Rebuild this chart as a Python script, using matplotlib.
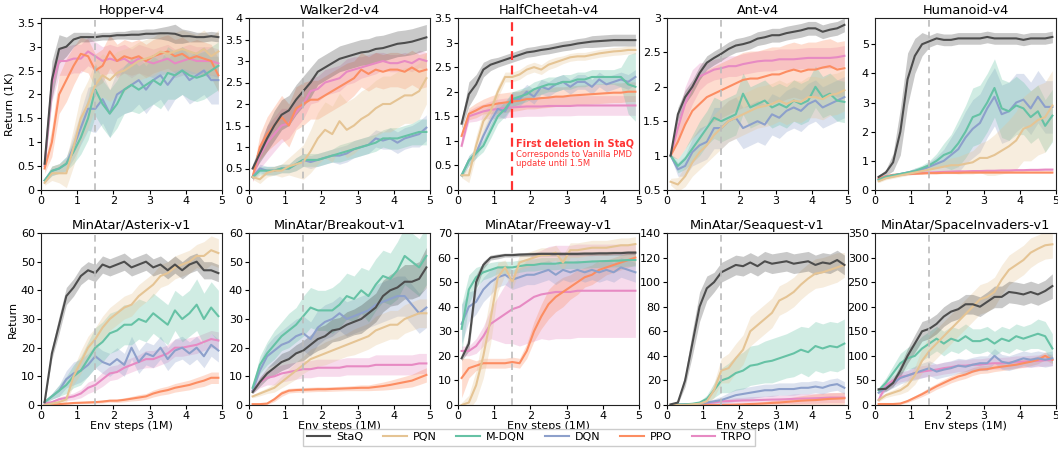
import matplotlib
matplotlib.use("Agg")
import matplotlib.pyplot as plt
import numpy as np

plt.rcParams['font.family'] = ['DejaVu Sans']

X = [0.1, 0.3, 0.5, 0.7, 0.9, 1.1, 1.3, 1.5, 1.7, 1.9, 2.1, 2.3, 2.5,
     2.7, 2.9, 3.1, 3.3, 3.5, 3.7, 3.9, 4.1, 4.3, 4.5, 4.7, 4.9]

methods = ["StaQ", "PQN", "M-DQN", "DQN", "PPO", "TRPO"]
colors = ["#4d4d4d", "#e5c494", "#66c2a5", "#8da0cb", "#fc8d62", "#e78ac3"]

titles = ["Hopper-v4", "Walker2d-v4", "HalfCheetah-v4", "Ant-v4", "Humanoid-v4",
          "MinAtar/Asterix-v1", "MinAtar/Breakout-v1", "MinAtar/Freeway-v1",
          "MinAtar/Seaquest-v1", "MinAtar/SpaceInvaders-v1"]

# ---------------- Hopper ----------------
hop_staq = [0.55, 2.3, 2.95, 3.0, 3.15, 3.2, 3.2, 3.2, 3.22, 3.22, 3.24, 3.24, 3.25, 3.25, 3.27, 3.27, 3.28, 3.28, 3.27, 3.22, 3.22, 3.2, 3.2, 3.22, 3.2]
hop_pqn = [0.15, 0.35, 0.35, 0.35, 0.9, 1.5, 1.8, 2.2, 2.4, 2.3, 2.45, 2.5, 2.6, 2.7, 2.75, 2.8, 2.9, 2.85, 2.9, 2.95, 2.9, 2.85, 2.95, 2.8, 2.9]
hop_mdqn = [0.2, 0.4, 0.45, 0.55, 0.8, 1.1, 1.5, 2.1, 1.8, 1.6, 1.8, 2.1, 2.2, 2.1, 2.2, 2.3, 2.2, 2.45, 2.4, 2.5, 2.4, 2.35, 2.4, 2.5, 2.6]
hop_dqn = [0.2, 0.4, 0.45, 0.55, 0.9, 1.3, 1.7, 1.7, 1.9, 1.6, 2.0, 2.1, 2.2, 2.3, 2.1, 2.3, 2.4, 2.2, 2.4, 2.5, 2.3, 2.4, 2.5, 2.3, 2.3]
hop_ppo = [0.45, 1.0, 2.0, 2.3, 2.6, 2.85, 2.8, 2.5, 2.6, 2.9, 2.7, 2.8, 2.75, 2.8, 2.7, 2.8, 2.85, 2.9, 2.8, 2.85, 2.75, 2.8, 2.75, 2.7, 2.4]
hop_trpo = [0.5, 2.2, 2.7, 2.7, 2.75, 2.75, 2.9, 2.8, 2.7, 2.75, 2.7, 2.75, 2.65, 2.75, 2.7, 2.65, 2.7, 2.75, 2.65, 2.7, 2.75, 2.7, 2.7, 2.7, 2.65]
hop_band = [
    [0.1, 0.4, 0.3, 0.2, 0.15, 0.1, 0.1, 0.08, 0.08, 0.08, 0.08, 0.08, 0.1, 0.1, 0.1, 0.1, 0.12, 0.15, 0.2, 0.15, 0.12, 0.1, 0.1, 0.1, 0.1],
    [0.05, 0.15, 0.2, 0.3, 0.4, 0.5, 0.5, 0.5, 0.45, 0.45, 0.45, 0.45, 0.4, 0.4, 0.4, 0.4, 0.4, 0.4, 0.4, 0.4, 0.4, 0.4, 0.4, 0.4, 0.45],
    [0.05, 0.1, 0.1, 0.15, 0.25, 0.35, 0.45, 0.55, 0.5, 0.5, 0.5, 0.5, 0.55, 0.5, 0.5, 0.5, 0.5, 0.55, 0.5, 0.5, 0.5, 0.5, 0.5, 0.5, 0.5],
    [0.05, 0.1, 0.1, 0.15, 0.25, 0.35, 0.45, 0.5, 0.5, 0.5, 0.5, 0.5, 0.55, 0.5, 0.5, 0.5, 0.5, 0.55, 0.5, 0.5, 0.5, 0.5, 0.5, 0.5, 0.5],
    [0.1, 0.3, 0.4, 0.45, 0.4, 0.35, 0.35, 0.35, 0.35, 0.35, 0.35, 0.35, 0.35, 0.35, 0.35, 0.35, 0.35, 0.35, 0.35, 0.35, 0.35, 0.35, 0.35, 0.35, 0.35],
    [0.1, 0.35, 0.3, 0.3, 0.3, 0.3, 0.3, 0.3, 0.3, 0.3, 0.3, 0.3, 0.3, 0.3, 0.3, 0.3, 0.3, 0.3, 0.3, 0.3, 0.3, 0.3, 0.3, 0.3, 0.3]]

# ---------------- Walker2d ----------------
wal_staq = [0.5, 0.85, 1.2, 1.5, 1.75, 1.85, 2.1, 2.3, 2.5, 2.75, 2.85, 2.95, 3.05, 3.1, 3.15, 3.2, 3.22, 3.28, 3.3, 3.35, 3.4, 3.42, 3.45, 3.5, 3.55]
wal_pqn = [0.3, 0.25, 0.4, 0.45, 0.45, 0.55, 0.6, 0.65, 0.9, 1.2, 1.4, 1.3, 1.6, 1.4, 1.5, 1.65, 1.75, 1.9, 2.0, 2.0, 2.1, 2.2, 2.2, 2.3, 2.6]
wal_mdqn = [0.3, 0.45, 0.45, 0.45, 0.5, 0.5, 0.6, 0.7, 0.7, 0.7, 0.75, 0.8, 0.85, 0.9, 0.95, 1.0, 1.05, 1.1, 1.2, 1.2, 1.2, 1.25, 1.3, 1.35, 1.35]
wal_dqn = [0.3, 0.5, 0.45, 0.45, 0.5, 0.5, 0.6, 0.7, 0.65, 0.7, 0.75, 0.8, 0.8, 0.85, 0.95, 1.0, 1.05, 1.2, 1.15, 1.2, 1.1, 1.2, 1.25, 1.3, 1.45]
wal_ppo = [0.3, 1.0, 1.3, 1.5, 1.7, 1.5, 1.9, 2.0, 2.1, 2.1, 2.2, 2.3, 2.4, 2.5, 2.6, 2.8, 2.7, 2.8, 2.75, 2.8, 2.8, 2.75, 2.85, 2.75, 2.8]
wal_trpo = [0.3, 0.8, 1.1, 1.3, 1.5, 1.55, 1.8, 2.0, 2.3, 2.35, 2.5, 2.55, 2.6, 2.75, 2.8, 2.85, 2.9, 2.95, 3.0, 2.95, 2.95, 3.0, 2.95, 3.05, 3.0]
wal_band = [
    [0.1, 0.2, 0.3, 0.35, 0.35, 0.35, 0.35, 0.35, 0.35, 0.3, 0.3, 0.3, 0.3, 0.3, 0.3, 0.3, 0.3, 0.3, 0.3, 0.3, 0.3, 0.3, 0.3, 0.3, 0.3],
    [0.05, 0.1, 0.1, 0.1, 0.15, 0.2, 0.3, 0.4, 0.5, 0.6, 0.65, 0.65, 0.65, 0.65, 0.65, 0.65, 0.65, 0.65, 0.65, 0.65, 0.65, 0.65, 0.65, 0.65, 0.6],
    [0.05, 0.1, 0.1, 0.1, 0.1, 0.1, 0.15, 0.15, 0.15, 0.15, 0.15, 0.15, 0.2, 0.2, 0.2, 0.2, 0.2, 0.2, 0.2, 0.25, 0.25, 0.25, 0.25, 0.3, 0.3],
    [0.05, 0.1, 0.1, 0.1, 0.1, 0.1, 0.15, 0.15, 0.15, 0.15, 0.15, 0.15, 0.2, 0.2, 0.2, 0.2, 0.2, 0.2, 0.2, 0.25, 0.25, 0.25, 0.25, 0.3, 0.3],
    [0.1, 0.3, 0.4, 0.45, 0.5, 0.5, 0.5, 0.5, 0.45, 0.45, 0.45, 0.45, 0.45, 0.45, 0.4, 0.4, 0.4, 0.4, 0.4, 0.4, 0.4, 0.4, 0.4, 0.4, 0.4],
    [0.1, 0.3, 0.4, 0.4, 0.4, 0.35, 0.35, 0.35, 0.3, 0.3, 0.3, 0.3, 0.3, 0.3, 0.3, 0.25, 0.25, 0.25, 0.2, 0.2, 0.2, 0.2, 0.2, 0.2, 0.2]]

# ---------------- HalfCheetah ----------------
hc_staq = [1.35, 1.95, 2.15, 2.45, 2.55, 2.6, 2.65, 2.7, 2.75, 2.8, 2.82, 2.85, 2.87, 2.9, 2.93, 2.95, 2.98, 3.0, 3.02, 3.03, 3.04, 3.05, 3.05, 3.05, 3.05]
hc_pqn = [0.3, 0.3, 0.9, 1.4, 1.6, 2.0, 2.3, 2.3, 2.35, 2.45, 2.5, 2.45, 2.55, 2.6, 2.65, 2.7, 2.72, 2.72, 2.75, 2.78, 2.8, 2.82, 2.83, 2.85, 2.85]
hc_mdqn = [0.3, 0.6, 0.75, 0.9, 1.2, 1.5, 1.65, 1.85, 1.9, 1.95, 2.05, 2.1, 2.15, 2.15, 2.2, 2.2, 2.25, 2.25, 2.3, 2.3, 2.3, 2.3, 2.3, 2.15, 2.1]
hc_dqn = [0.3, 0.6, 0.75, 1.1, 1.4, 1.65, 1.6, 1.85, 1.85, 2.0, 1.9, 2.1, 2.05, 2.15, 2.2, 2.1, 2.2, 2.2, 2.1, 2.25, 2.15, 2.2, 2.25, 2.2, 2.3]
hc_ppo = [1.1, 1.55, 1.62, 1.7, 1.73, 1.76, 1.78, 1.8, 1.82, 1.85, 1.85, 1.87, 1.88, 1.9, 1.9, 1.92, 1.93, 1.94, 1.95, 1.96, 1.97, 1.98, 1.98, 2.0, 2.0]
hc_trpo = [0.9, 1.5, 1.55, 1.6, 1.63, 1.65, 1.67, 1.68, 1.69, 1.7, 1.7, 1.7, 1.71, 1.71, 1.71, 1.71, 1.72, 1.72, 1.72, 1.72, 1.72, 1.72, 1.72, 1.72, 1.72]
hc_band = [
    [0.1, 0.25, 0.2, 0.15, 0.12, 0.1, 0.1, 0.1, 0.1, 0.1, 0.1, 0.1, 0.1, 0.1, 0.1, 0.1, 0.1, 0.1, 0.12, 0.12, 0.12, 0.12, 0.12, 0.12, 0.12],
    [0.05, 0.15, 0.2, 0.2, 0.15, 0.12, 0.1, 0.1, 0.1, 0.1, 0.1, 0.1, 0.1, 0.1, 0.08, 0.08, 0.08, 0.08, 0.08, 0.08, 0.08, 0.08, 0.08, 0.08, 0.08],
    [0.05, 0.1, 0.1, 0.12, 0.15, 0.15, 0.15, 0.15, 0.15, 0.15, 0.15, 0.15, 0.15, 0.15, 0.15, 0.15, 0.15, 0.15, 0.15, 0.15, 0.15, 0.15, 0.2, 0.6, 0.7],
    [0.05, 0.1, 0.1, 0.12, 0.15, 0.15, 0.15, 0.15, 0.15, 0.15, 0.15, 0.15, 0.15, 0.15, 0.15, 0.15, 0.15, 0.15, 0.15, 0.15, 0.15, 0.15, 0.15, 0.15, 0.15],
    [0.1, 0.12, 0.15, 0.15, 0.18, 0.2, 0.2, 0.2, 0.2, 0.2, 0.2, 0.2, 0.2, 0.2, 0.2, 0.2, 0.2, 0.2, 0.2, 0.2, 0.2, 0.2, 0.2, 0.2, 0.2],
    [0.05, 0.12, 0.15, 0.15, 0.18, 0.2, 0.2, 0.2, 0.2, 0.2, 0.2, 0.2, 0.2, 0.2, 0.2, 0.2, 0.2, 0.2, 0.2, 0.2, 0.2, 0.2, 0.2, 0.2, 0.2]]

# ---------------- Ant ----------------
ant_staq = [1.0, 1.6, 1.85, 2.0, 2.2, 2.35, 2.42, 2.48, 2.55, 2.6, 2.62, 2.65, 2.7, 2.72, 2.75, 2.75, 2.78, 2.8, 2.82, 2.85, 2.85, 2.8, 2.83, 2.85, 2.9]
ant_pqn = [0.62, 0.58, 0.7, 0.9, 1.05, 1.15, 1.3, 1.4, 1.5, 1.55, 1.6, 1.65, 1.7, 1.72, 1.75, 1.8, 1.75, 1.8, 1.78, 1.85, 1.85, 1.82, 1.88, 1.9, 1.95]
ant_mdqn = [1.0, 0.85, 0.95, 1.1, 1.25, 1.4, 1.55, 1.5, 1.55, 1.6, 1.9, 1.7, 1.75, 1.8, 1.7, 1.75, 1.7, 1.8, 1.75, 1.8, 2.0, 1.85, 1.9, 1.8, 1.78]
ant_dqn = [1.0, 0.8, 0.85, 1.05, 1.15, 1.2, 1.4, 1.4, 1.5, 1.55, 1.4, 1.45, 1.5, 1.45, 1.6, 1.55, 1.65, 1.7, 1.65, 1.75, 1.8, 1.7, 1.75, 1.8, 1.85]
ant_ppo = [1.0, 1.2, 1.45, 1.65, 1.75, 1.85, 1.9, 1.95, 2.0, 2.05, 2.1, 2.12, 2.12, 2.15, 2.18, 2.18, 2.22, 2.25, 2.22, 2.25, 2.25, 2.28, 2.3, 2.25, 2.27]
ant_trpo = [1.0, 1.4, 1.75, 2.0, 2.15, 2.2, 2.25, 2.27, 2.3, 2.3, 2.33, 2.35, 2.37, 2.38, 2.38, 2.4, 2.4, 2.4, 2.41, 2.42, 2.42, 2.42, 2.42, 2.43, 2.45]
ant_band = [
    [0.02, 0.1, 0.1, 0.1, 0.1, 0.1, 0.1, 0.1, 0.1, 0.1, 0.1, 0.1, 0.1, 0.1, 0.1, 0.1, 0.1, 0.1, 0.1, 0.1, 0.1, 0.1, 0.1, 0.1, 0.1],
    [0.05, 0.1, 0.15, 0.2, 0.25, 0.25, 0.3, 0.3, 0.3, 0.3, 0.3, 0.3, 0.3, 0.3, 0.3, 0.3, 0.3, 0.3, 0.3, 0.3, 0.3, 0.3, 0.3, 0.3, 0.3],
    [0.02, 0.1, 0.15, 0.2, 0.25, 0.25, 0.3, 0.3, 0.3, 0.3, 0.3, 0.3, 0.3, 0.3, 0.3, 0.3, 0.3, 0.3, 0.3, 0.3, 0.3, 0.3, 0.3, 0.3, 0.3],
    [0.02, 0.1, 0.15, 0.2, 0.25, 0.25, 0.3, 0.3, 0.3, 0.3, 0.3, 0.3, 0.3, 0.3, 0.3, 0.3, 0.3, 0.3, 0.3, 0.3, 0.3, 0.3, 0.3, 0.3, 0.3],
    [0.02, 0.25, 0.35, 0.4, 0.4, 0.4, 0.4, 0.4, 0.4, 0.4, 0.4, 0.4, 0.4, 0.4, 0.4, 0.4, 0.4, 0.4, 0.4, 0.4, 0.4, 0.4, 0.4, 0.4, 0.4],
    [0.02, 0.2, 0.25, 0.25, 0.2, 0.15, 0.15, 0.15, 0.15, 0.15, 0.15, 0.15, 0.15, 0.15, 0.15, 0.15, 0.15, 0.15, 0.15, 0.15, 0.15, 0.15, 0.15, 0.15, 0.15]]

# ---------------- Humanoid ----------------
hum_staq = [0.45, 0.6, 0.95, 2.0, 3.8, 4.6, 5.0, 5.1, 5.2, 5.15, 5.15, 5.2, 5.2, 5.2, 5.2, 5.25, 5.2, 5.2, 5.2, 5.2, 5.15, 5.2, 5.2, 5.2, 5.25]
hum_pqn = [0.3, 0.4, 0.45, 0.5, 0.55, 0.6, 0.65, 0.7, 0.75, 0.8, 0.85, 0.85, 0.9, 0.95, 1.1, 1.1, 1.2, 1.35, 1.5, 1.7, 2.1, 2.2, 2.4, 2.5, 2.9]
hum_mdqn = [0.35, 0.45, 0.5, 0.55, 0.6, 0.65, 0.75, 0.85, 1.0, 1.2, 1.3, 1.6, 2.0, 2.5, 2.6, 3.0, 3.5, 2.8, 2.7, 2.9, 2.8, 2.5, 2.7, 2.2, 2.55]
hum_dqn = [0.35, 0.45, 0.5, 0.55, 0.6, 0.65, 0.7, 0.8, 0.9, 1.0, 1.2, 1.4, 1.8, 2.1, 2.3, 2.8, 3.2, 2.6, 2.7, 3.0, 3.1, 2.8, 3.2, 2.85, 2.85]
hum_ppo = [0.4, 0.47, 0.52, 0.54, 0.55, 0.56, 0.57, 0.58, 0.58, 0.59, 0.59, 0.59, 0.6, 0.6, 0.6, 0.6, 0.6, 0.6, 0.6, 0.6, 0.6, 0.6, 0.6, 0.6, 0.6]
hum_trpo = [0.4, 0.47, 0.5, 0.53, 0.55, 0.57, 0.59, 0.6, 0.61, 0.62, 0.63, 0.64, 0.64, 0.65, 0.65, 0.66, 0.66, 0.67, 0.67, 0.68, 0.68, 0.69, 0.69, 0.7, 0.7]
hum_band = [
    [0.05, 0.1, 0.3, 0.8, 0.9, 0.6, 0.4, 0.2, 0.2, 0.2, 0.2, 0.2, 0.2, 0.2, 0.2, 0.2, 0.2, 0.2, 0.2, 0.2, 0.2, 0.2, 0.2, 0.2, 0.2],
    [0.05, 0.05, 0.05, 0.05, 0.05, 0.05, 0.1, 0.1, 0.15, 0.2, 0.25, 0.3, 0.35, 0.4, 0.5, 0.6, 0.7, 0.8, 0.9, 1.0, 1.1, 1.2, 1.2, 1.2, 1.2],
    [0.05, 0.05, 0.05, 0.05, 0.05, 0.1, 0.1, 0.15, 0.25, 0.4, 0.6, 0.8, 0.9, 1.0, 1.0, 1.0, 1.0, 1.0, 1.0, 1.0, 0.9, 0.9, 0.9, 0.9, 0.9],
    [0.05, 0.05, 0.05, 0.05, 0.05, 0.1, 0.1, 0.15, 0.25, 0.4, 0.6, 0.8, 0.9, 1.0, 1.0, 1.0, 1.0, 1.0, 1.0, 1.0, 0.9, 0.9, 0.9, 0.9, 0.9],
    [0.05, 0.04, 0.03, 0.03, 0.03, 0.03, 0.03, 0.03, 0.03, 0.03, 0.03, 0.03, 0.03, 0.03, 0.03, 0.03, 0.03, 0.03, 0.03, 0.03, 0.03, 0.03, 0.03, 0.03, 0.03],
    [0.05, 0.04, 0.03, 0.03, 0.03, 0.03, 0.03, 0.03, 0.03, 0.03, 0.03, 0.03, 0.03, 0.03, 0.03, 0.03, 0.03, 0.03, 0.03, 0.03, 0.03, 0.03, 0.03, 0.03, 0.03]]

# ---------------- Asterix ----------------
ast_staq = [1, 18, 28, 38, 41, 45, 47, 46, 49, 48, 49, 50, 48, 49, 50, 48, 49, 47, 49, 47, 49, 50, 47, 47, 46]
ast_pqn = [0, 0.5, 1, 2, 10, 15, 20, 23, 27, 30, 32, 34, 35, 38, 40, 42, 45, 46, 48, 49, 50, 52, 52, 54, 53]
ast_mdqn = [1, 3, 5, 7, 10, 12, 16, 20, 22, 25, 26, 28, 28, 30, 29, 32, 30, 28, 33, 30, 32, 35, 30, 34, 31]
ast_dqn = [1, 3, 5, 9, 11, 12, 14, 17, 15, 14, 16, 14, 20, 15, 18, 17, 20, 16, 19, 20, 18, 20, 17, 21, 19]
ast_ppo = [0, 0.1, 0.3, 0.5, 0.7, 0.8, 0.9, 1, 1.2, 1.5, 1.5, 1.8, 2.2, 2.6, 3, 4, 4.7, 5.2, 6, 6.5, 7, 7.8, 8.5, 9.5, 9.5]
ast_trpo = [0.5, 1, 2, 2.5, 3, 4, 6, 7, 9, 11, 11.5, 13, 14, 15, 16, 16, 17, 18, 20, 20, 20.5, 21, 22, 23, 22.5]
ast_band = [
    [0.5, 2, 3, 3, 3, 3, 3, 3, 3, 3, 3, 3, 3, 3, 3, 3, 3, 3, 3, 3, 3, 3, 3, 3, 3],
    [0.2, 0.3, 0.5, 1, 3, 4, 4, 4, 4, 4, 4, 4, 4, 4, 4, 4, 4, 4, 4, 4, 4, 4, 5, 5, 5],
    [0.5, 1, 2, 3, 4, 5, 6, 7, 7, 7, 7, 7, 7, 7, 7, 7, 7, 7, 7, 8, 8, 9, 9, 9, 9],
    [0.5, 1, 2, 3, 4, 4, 4, 4, 4, 4, 4, 4, 4, 4, 4, 4, 4, 4, 4, 4, 4, 4, 4, 4, 4],
    [0.1, 0.1, 0.2, 0.3, 0.3, 0.3, 0.4, 0.4, 0.5, 0.5, 0.6, 0.7, 0.8, 1, 1, 1.2, 1.3, 1.4, 1.5, 1.6, 1.7, 1.8, 2, 2, 2],
    [0.2, 0.5, 0.8, 1, 1.2, 1.5, 2, 2, 2.5, 2.5, 2.5, 2.5, 2.5, 2.5, 3, 3, 3, 3, 3, 3, 3, 3, 3, 3, 3]]

# ---------------- Breakout ----------------
brk_staq = [4.5, 8, 11, 13, 15, 16, 18, 19, 21, 23, 24, 26, 26.5, 28, 29, 30, 32, 34, 38, 40, 41, 43, 43, 44, 48]
brk_pqn = [3, 4, 5, 6, 8, 10, 12, 14, 16, 17, 18, 19, 20, 21, 22, 23, 24, 26, 27, 28, 28, 30, 31, 32, 32]
brk_mdqn = [6, 14, 18, 21, 24, 26, 28, 31, 34, 33, 33, 33, 35, 38, 37, 40, 38, 42, 45, 44, 47, 52, 50, 48, 52]
brk_dqn = [5, 12, 17, 19, 21, 22, 24, 25, 23, 27, 29, 30, 32, 30, 31, 32, 33, 35, 36, 37, 38, 38, 35, 32, 34]
brk_ppo = [0.3, 0.3, 0.5, 2, 4, 5, 5.2, 5.3, 5.4, 5.5, 5.5, 5.6, 5.7, 5.8, 5.9, 6, 6, 6.3, 6.6, 7, 7.5, 8, 8.5, 9.5, 10.5]
brk_trpo = [5, 8, 9.5, 10, 11, 11.5, 12, 12.5, 12.5, 13, 13, 13, 13, 13.5, 13.5, 13.5, 13.5, 14, 14, 14, 14, 14, 14, 14.5, 14.5]
brk_band = [
    [0.5, 1.5, 2, 2.5, 3, 3, 3, 3.5, 3.5, 4, 4, 4, 4, 4.5, 4.5, 5, 5, 5, 5.5, 5.5, 6, 6, 6, 6, 7],
    [0.5, 0.8, 1, 1.5, 2, 2.5, 3, 3, 3.5, 3.5, 4, 4, 4, 4, 4.5, 4.5, 4.5, 5, 5, 5, 5, 5, 5, 5, 5],
    [1, 3, 4, 5, 5, 6, 6, 7, 7, 7, 7, 8, 8, 8, 8, 8, 9, 9, 9, 9, 10, 10, 10, 10, 10],
    [1, 3, 4, 5, 5, 6, 6, 6, 6, 6, 6, 6, 6, 6, 6, 6, 6, 7, 7, 7, 7, 7, 7, 7, 7],
    [0.2, 0.2, 0.3, 0.8, 1, 0.8, 0.8, 0.8, 0.8, 0.8, 0.8, 0.8, 0.8, 0.8, 0.9, 1, 1, 1.2, 1.4, 1.6, 1.8, 2, 2.2, 2.4, 2.5],
    [1, 2, 2.5, 3, 3, 3, 3, 3, 3, 3, 3, 3, 3, 3, 3, 3, 3, 3.5, 3.5, 3.5, 3.5, 3.5, 3.5, 3.5, 3.5]]

# ---------------- Freeway ----------------
frw_staq = [19, 25, 50, 57, 60, 60.5, 61, 61, 61.2, 61.3, 61.4, 61.5, 61.5, 61.5, 61.5, 61.5, 61.5, 61.6, 61.6, 61.7, 61.7, 61.8, 61.8, 62, 62]
frw_pqn = [0, 1, 8, 20, 35, 52, 56, 50, 58, 59, 60, 61, 61, 62, 58, 63, 63, 63.5, 64, 64, 64, 64.5, 65, 65, 65.5]
frw_mdqn = [31, 47, 52, 54, 55, 56, 56, 56, 56.5, 57, 57, 57.5, 57.5, 57.5, 58, 58, 58, 58.2, 58.4, 58.5, 58.6, 58.7, 58.8, 59, 59]
frw_dqn = [33, 40, 42, 47, 50, 52, 53, 51, 52, 53, 53, 54, 55, 53, 55, 54, 55, 54, 55, 54, 55, 54, 56, 55, 54]
frw_ppo = [11, 15, 16, 17, 17, 17, 17, 17.5, 17, 22, 30, 36, 41, 44, 46, 48, 50, 52, 53, 55, 56, 57, 58, 59, 60]
frw_trpo = [22, 22, 24, 28, 33, 35, 37, 39, 40, 42, 44, 45, 45.5, 46, 46, 46, 46.5, 46.5, 46.5, 46.5, 46.5, 46.5, 46.5, 46.5, 46.5]
frw_band = [
    [1, 3, 3, 1.5, 1, 1, 0.8, 0.8, 0.8, 0.8, 0.8, 0.8, 0.8, 0.8, 0.8, 0.8, 0.8, 0.8, 0.8, 0.8, 0.8, 0.8, 0.8, 0.8, 0.8],
    [1, 3, 6, 9, 10, 6, 3, 3, 3, 3, 3, 3, 3, 3, 3, 3, 3, 3, 3, 3, 3, 3, 3, 3, 3],
    [10, 6, 4, 3, 3, 2.5, 2.5, 2.5, 2.5, 2.5, 2.5, 2.5, 2.5, 2.5, 2.5, 2.5, 2.5, 2.5, 2.5, 2.5, 2.5, 2.5, 2.5, 2.5, 2.5],
    [8, 6, 5, 5, 5, 4, 4, 4, 4, 4, 4, 4, 4, 4, 4, 4, 4, 4, 4, 4, 4, 4, 4, 4, 4],
    [8, 4, 2, 2, 2, 2, 2, 2, 2, 3, 4, 5, 6, 6, 6, 5, 5, 4, 4, 4, 3, 3, 3, 3, 3],
    [2, 2, 3, 4, 6, 9, 12, 14, 16, 17, 18, 18, 19, 19, 19, 19, 19, 19, 19, 19, 19, 19, 19, 19, 19]]

# ---------------- Seaquest ----------------
sea_staq = [0.5, 2, 20, 50, 80, 95, 100, 108, 111, 114, 113, 116, 113, 117, 115, 116, 117, 115, 116, 117, 114, 116, 115, 118, 114]
sea_pqn = [0, 0, 0, 0.5, 1, 3, 12, 28, 30, 38, 45, 60, 65, 70, 75, 85, 88, 92, 98, 103, 107, 108, 110, 112, 114]
sea_mdqn = [0, 0.5, 0.5, 1, 2, 5, 12, 20, 22, 26, 28, 32, 33, 35, 36, 38, 40, 42, 45, 43, 48, 46, 48, 47, 50]
sea_dqn = [0, 0.2, 0.5, 0.7, 1, 2, 3, 4, 6, 8, 9, 10, 11, 12, 12, 13, 13, 13, 14, 14, 15, 14, 16, 17, 14]
sea_ppo = [0, 0, 0, 0, 0, 0, 0, 0, 0.2, 0.3, 0.5, 0.8, 1, 1.3, 1.7, 2, 2.5, 3, 3.5, 3.8, 4, 4.5, 5, 5.2, 5.5]
sea_trpo = [0, 0.2, 0.4, 0.6, 1, 1.5, 2, 3, 3.2, 3.5, 3.7, 3.8, 4, 4.2, 4.4, 4.5, 4.7, 5, 5.2, 5.3, 5.5, 5.7, 6, 6, 6]
sea_band = [
    [0.5, 1, 5, 10, 12, 10, 8, 8, 8, 8, 8, 8, 8, 8, 8, 8, 8, 8, 8, 8, 8, 8, 8, 8, 8],
    [0, 0, 0, 0.3, 0.5, 2, 6, 10, 12, 12, 12, 12, 12, 12, 12, 12, 12, 12, 12, 12, 12, 12, 12, 12, 10],
    [0, 0.3, 0.3, 0.5, 1, 3, 6, 10, 12, 14, 15, 16, 16, 17, 18, 18, 18, 19, 19, 20, 20, 20, 20, 20, 20],
    [0, 0.2, 0.3, 0.4, 0.5, 1, 2, 3, 4, 5, 5, 5, 5, 5, 5, 5, 5, 5, 5, 5, 5, 5, 5, 5, 5],
    [0, 0, 0, 0, 0, 0, 0, 0, 0.3, 0.5, 0.8, 1, 1.2, 1.5, 2, 2.5, 3, 3.5, 4, 4.5, 5, 5, 5, 5, 5],
    [0.2, 0.3, 0.5, 0.8, 1, 1.2, 1.5, 2, 2, 2.5, 2.5, 3, 3, 3, 3.5, 3.5, 3.5, 4, 4, 4, 4, 4, 4, 4, 4]]

# ---------------- SpaceInvaders ----------------
spi_staq = [32, 33, 45, 70, 100, 125, 150, 155, 165, 180, 190, 195, 205, 205, 200, 210, 220, 220, 230, 228, 225, 230, 225, 232, 242]
spi_pqn = [10, 20, 25, 30, 40, 60, 90, 110, 125, 140, 155, 170, 185, 200, 215, 220, 230, 255, 275, 285, 295, 310, 318, 325, 327]
spi_mdqn = [30, 45, 65, 85, 95, 100, 115, 125, 135, 125, 135, 130, 140, 130, 130, 135, 125, 135, 130, 140, 135, 140, 145, 140, 115]
spi_dqn = [25, 35, 45, 55, 60, 65, 70, 75, 68, 72, 75, 80, 78, 82, 85, 85, 100, 88, 85, 90, 95, 92, 95, 92, 95]
spi_ppo = [2, 2, 2, 3, 8, 15, 22, 30, 38, 45, 52, 58, 62, 68, 72, 73, 76, 78, 80, 82, 85, 88, 92, 100, 92]
spi_trpo = [10, 40, 50, 57, 60, 65, 68, 70, 72, 75, 77, 80, 80, 82, 82, 84, 85, 85, 86, 88, 88, 89, 90, 91, 92]
spi_band = [
    [3, 5, 8, 12, 15, 18, 20, 20, 20, 20, 20, 20, 20, 20, 20, 20, 22, 22, 22, 22, 22, 22, 22, 22, 25],
    [3, 5, 6, 8, 12, 18, 25, 30, 30, 30, 30, 30, 30, 30, 30, 30, 30, 30, 30, 30, 30, 30, 28, 28, 28],
    [5, 10, 15, 20, 22, 25, 25, 25, 25, 25, 25, 25, 25, 25, 25, 25, 25, 25, 25, 25, 25, 25, 30, 30, 30],
    [5, 8, 10, 12, 12, 14, 15, 15, 15, 15, 15, 15, 15, 15, 15, 15, 15, 15, 15, 15, 15, 15, 15, 15, 15],
    [1, 1, 1, 2, 3, 4, 5, 6, 6, 7, 7, 8, 8, 8, 8, 8, 8, 8, 8, 8, 8, 8, 8, 8, 8],
    [4, 8, 10, 10, 10, 12, 12, 12, 12, 12, 12, 12, 12, 12, 12, 12, 12, 12, 12, 12, 12, 12, 12, 12, 12]]

panels = [
    ([hop_staq, hop_pqn, hop_mdqn, hop_dqn, hop_ppo, hop_trpo], hop_band),
    ([wal_staq, wal_pqn, wal_mdqn, wal_dqn, wal_ppo, wal_trpo], wal_band),
    ([hc_staq, hc_pqn, hc_mdqn, hc_dqn, hc_ppo, hc_trpo], hc_band),
    ([ant_staq, ant_pqn, ant_mdqn, ant_dqn, ant_ppo, ant_trpo], ant_band),
    ([hum_staq, hum_pqn, hum_mdqn, hum_dqn, hum_ppo, hum_trpo], hum_band),
    ([ast_staq, ast_pqn, ast_mdqn, ast_dqn, ast_ppo, ast_trpo], ast_band),
    ([brk_staq, brk_pqn, brk_mdqn, brk_dqn, brk_ppo, brk_trpo], brk_band),
    ([frw_staq, frw_pqn, frw_mdqn, frw_dqn, frw_ppo, frw_trpo], frw_band),
    ([sea_staq, sea_pqn, sea_mdqn, sea_dqn, sea_ppo, sea_trpo], sea_band),
    ([spi_staq, spi_pqn, spi_mdqn, spi_dqn, spi_ppo, spi_trpo], spi_band),
]

ylims = [(0, 3.6), (0, 4), (0, 3.5), (0.5, 3), (0, 5.9),
         (0, 60), (0, 60), (0, 70), (0, 140), (0, 350)]
yticks = [np.arange(0, 3.51, 0.5), np.arange(0, 4.01, 0.5), np.arange(0, 3.51, 0.5),
          np.arange(0.5, 3.01, 0.5), np.arange(0, 5.1, 1),
          np.arange(0, 61, 10), np.arange(0, 61, 10), np.arange(0, 71, 10),
          np.arange(0, 141, 20), np.arange(0, 351, 50)]

W, H = 1058, 449
fig = plt.figure(figsize=(W / 100, H / 100), dpi=100)
lefts = [41, 249, 458, 667, 875]
aw = 181
rows_top = [18, 233]
ah = 172

xs = np.array(X)
draw_order = [5, 4, 3, 2, 1, 0]
handles = {}
for idx in range(10):
    r, c = divmod(idx, 5)
    ax = fig.add_axes([lefts[c] / W, 1 - (rows_top[r] + ah) / H, aw / W, ah / H])
    series, bands = panels[idx]
    for k in draw_order:
        y = np.array(series[k], dtype=float)
        b = np.array(bands[k], dtype=float)
        ax.fill_between(xs, y - b, y + b, color=colors[k], alpha=0.3, lw=0)
    for k in draw_order:
        y = np.array(series[k], dtype=float)
        ln, = ax.plot(xs, y, color=colors[k], lw=1.5, label=methods[k])
        handles[methods[k]] = ln
    if idx == 2:
        ax.axvline(1.5, color="#ff3333", ls=(0, (4, 2.5)), lw=1.6, zorder=5)
        ax.text(1.6, 0.94, "First deletion in StaQ", color="#ff3333",
                fontsize=7, fontweight="bold", va="center", ha="left")
        ax.text(1.6, 0.63, "Corresponds to Vanilla PMD\nupdate until 1.5M",
                color="#ff3333", fontsize=6, va="center", ha="left",
                linespacing=1.0)
    else:
        ax.axvline(1.5, color="#bbbbbb", ls=(0, (4, 3)), lw=1.2, zorder=5)
    ax.set_xlim(0, 5)
    ax.set_ylim(*ylims[idx])
    ax.set_xticks(range(6))
    ax.set_yticks(yticks[idx])
    ax.yaxis.set_major_formatter(matplotlib.ticker.FormatStrFormatter('%g'))
    ax.tick_params(labelsize=8, length=3, width=0.8, pad=1.5)
    ax.set_title(titles[idx], fontsize=9.3, pad=3)
    for s in ax.spines.values():
        s.set_color("#222222")
        s.set_linewidth(0.8)
    if r == 1:
        ax.set_xlabel("Env steps (1M)", fontsize=8, labelpad=0)
    if idx == 0:
        ax.set_ylabel("Return (1K)", fontsize=8, labelpad=2)
    if idx == 5:
        ax.set_ylabel("Return", fontsize=8, labelpad=2)

fig.legend([handles[m] for m in methods], methods, loc="lower center",
           bbox_to_anchor=(0.5, -0.005), ncol=6, fontsize=8, frameon=True,
           columnspacing=1.8, handlelength=2.1, handletextpad=0.55,
           borderpad=0.3, fancybox=False, edgecolor="#cccccc",
           framealpha=1.0)

fig.savefig("out.png", dpi=100)
